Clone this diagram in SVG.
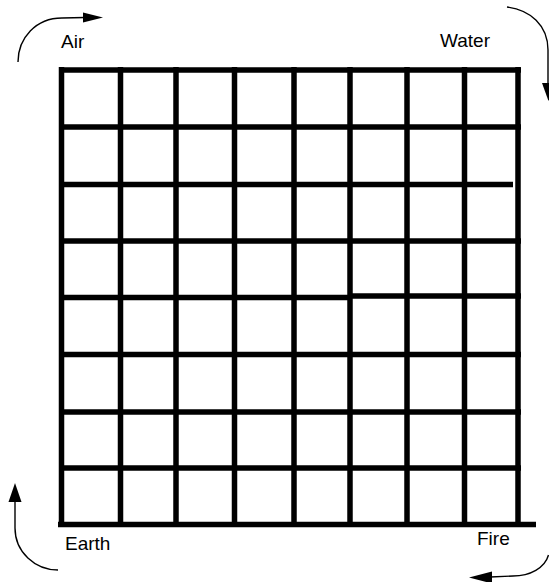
<svg xmlns="http://www.w3.org/2000/svg" width="549" height="582" viewBox="0 0 549 582">
<style>
.grid line{stroke:#000;stroke-width:5.5;stroke-linecap:butt}
.arc{fill:none;stroke:#000;stroke-width:1.4}
.head{fill:#000;stroke:none}
text{font-family:"Liberation Sans",Arial,sans-serif;font-size:19px;fill:#000}
</style>
<rect width="549" height="582" fill="#fff"/>
<g id="grid" class="grid">
<line x1="59" y1="70" x2="521" y2="70"/>
<line x1="59" y1="127" x2="521" y2="127"/>
<line x1="59" y1="184.5" x2="513" y2="184.5"/>
<line x1="59" y1="241" x2="521" y2="241"/>
<line x1="59" y1="297.5" x2="350" y2="297.5"/>
<line x1="350" y1="296" x2="521" y2="296"/>
<line x1="59" y1="354.5" x2="521" y2="354.5"/>
<line x1="59" y1="412" x2="521" y2="412"/>
<line x1="59" y1="468" x2="521" y2="468"/>
<line x1="58" y1="524.5" x2="536" y2="524.5"/>
<line x1="61.5" y1="67" x2="61.5" y2="527"/>
<line x1="120.5" y1="67" x2="120.5" y2="527"/>
<line x1="176" y1="67" x2="176" y2="527"/>
<line x1="234.5" y1="67" x2="234.5" y2="527"/>
<line x1="294" y1="67" x2="294" y2="527"/>
<line x1="350" y1="67" x2="350" y2="527"/>
<line x1="407" y1="67" x2="407" y2="527"/>
<line x1="464.5" y1="67" x2="464.5" y2="527"/>
<line x1="518" y1="67" x2="518" y2="527"/>
</g>
<g id="connectors">
<path class="arc" d="M18,62 C18,38 36,18 62,18 L85,17.5"/>
<polygon class="head" points="83,12.5 103,17.5 83,22.5"/>
<path class="arc" d="M507,7 C530,10 548,25 548,50 L548,85"/>
<polygon class="head" points="542,83 555,83 548.5,101"/>
<path class="arc" d="M15,500 L15,528 C15,552 35,570 58,570"/>
<polygon class="head" points="15,483 21.5,502 8.5,502"/>
<path class="arc" d="M548.5,555 C545,568 530,576 513,576 L490,577"/>
<polygon class="head" points="469,577.5 492,571.5 492,583.5"/>
</g>
<g id="air"><text x="61" y="48">Air</text></g>
<g id="water"><text x="440" y="47">Water</text></g>
<g id="earth"><text x="65" y="550">Earth</text></g>
<g id="fire"><text x="477" y="545">Fire</text></g>
</svg>
